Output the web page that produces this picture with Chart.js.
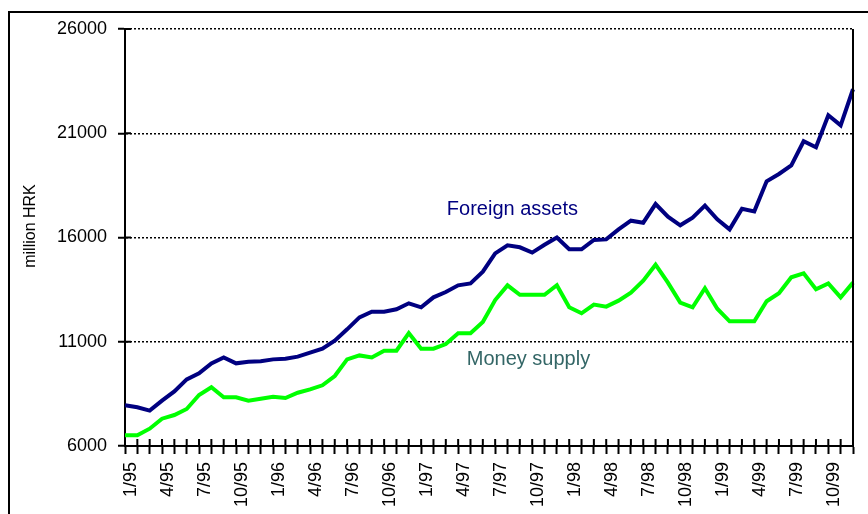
<!DOCTYPE html>
<html>
<head>
<meta charset="utf-8">
<script src="https://cdn.jsdelivr.net/npm/chart.js@4.4.1/dist/chart.umd.min.js"></script>
<style>
  html, body { margin: 0; padding: 0; background: #fff; overflow: hidden; }
  #frame { position: absolute; left: 8px; top: 11px; width: 900px; height: 600px; border: 2px solid #000; }
  #wrap { position: absolute; left: 0; top: 0; width: 868px; height: 514px; }
</style>
</head>
<body>
<div id="frame"></div>
<div id="wrap"><canvas id="chart"></canvas></div>
<script>
"use strict";

const years = ["95", "96", "97", "98", "99"];
const months = [];
for (const y of years) {
  for (let m = 1; m <= 12; m++) {
    months.push(m + "/" + y);
  }
}

const foreignAssets = [
  7950, 7855, 7695, 8175, 8620, 9195, 9485, 9965, 10250, 9965, 10045, 10060,
  10155, 10190, 10285, 10475, 10665, 11050, 11595, 12170, 12440, 12440, 12555, 12845,
  12650, 13130, 13385, 13705, 13800, 14360, 15240, 15625, 15530, 15275, 15655, 16000,
  15435, 15435, 15880, 15910, 16390, 16805, 16710, 17605, 16995, 16585, 16955, 17530,
  16870, 16390, 17380, 17255, 18695, 19045, 19460, 20615, 20325, 21860, 21380, 23110
];

const moneySupply = [
  6510, 6510, 6830, 7310, 7485, 7775, 8445, 8815, 8335, 8335, 8175, 8270,
  8365, 8300, 8555, 8715, 8910, 9355, 10155, 10345, 10250, 10570, 10570, 11420,
  10665, 10665, 10890, 11405, 11405, 11945, 13000, 13705, 13255, 13255, 13255, 13710,
  12650, 12365, 12780, 12685, 12970, 13355, 13930, 14695, 13835, 12875, 12650, 13570,
  12585, 11980, 11980, 11980, 12940, 13325, 14090, 14280, 13515, 13800, 13130, 13835
];

const yTicks = [6000, 11000, 16000, 21000, 26000];

const fontFamily = "'Liberation Sans', Arial, sans-serif";

// extra bits: inner tick marks, right border, labels on the lines, axis title
const extras = {
  id: "extras",
  afterDraw(chart) {
    const ctx = chart.ctx;
    const area = chart.chartArea;
    const x = chart.scales.x;
    const y = chart.scales.y;

    ctx.save();
    ctx.strokeStyle = "#000";
    ctx.lineWidth = 2;
    ctx.beginPath();
    for (let i = 0; i < x.ticks.length; i++) {
      const px = x.getPixelForTick(i);
      ctx.moveTo(px, area.bottom - 7);
      ctx.lineTo(px, area.bottom);
    }
    for (let i = 0; i < y.ticks.length; i++) {
      const py = y.getPixelForTick(i);
      ctx.moveTo(area.left, py);
      ctx.lineTo(area.left + 6, py);
    }
    ctx.moveTo(area.right, area.top);
    ctx.lineTo(area.right, area.bottom);
    ctx.stroke();

    ctx.font = "20px " + fontFamily;
    ctx.textAlign = "center";
    ctx.textBaseline = "middle";
    ctx.fillStyle = "#000080";
    ctx.fillText("Foreign assets", x.getPixelForValue(31.4), y.getPixelForValue(17330));
    ctx.fillStyle = "#336666";
    ctx.fillText("Money supply", x.getPixelForValue(32.7), y.getPixelForValue(10170));

    ctx.translate(31, 226);
    ctx.rotate(-Math.PI / 2);
    ctx.fillStyle = "#000";
    ctx.font = "16px " + fontFamily;
    ctx.fillText("million HRK", 0, 0);
    ctx.restore();
  }
};

new Chart(document.getElementById("chart"), {
  type: "line",
  data: {
    labels: months,
    datasets: [
      {
        label: "Foreign assets",
        data: foreignAssets,
        borderColor: "#000080",
        borderWidth: 4,
        pointRadius: 0,
        tension: 0,
        fill: false
      },
      {
        label: "Money supply",
        data: moneySupply,
        borderColor: "#00ff00",
        borderWidth: 4,
        pointRadius: 0,
        tension: 0,
        fill: false
      }
    ]
  },
  plugins: [extras],
  options: {
    responsive: true,
    maintainAspectRatio: false,
    animation: false,
    layout: { padding: { top: 29, right: 15, left: 0, bottom: 0 } },
    plugins: {
      legend: { display: false },
      tooltip: { enabled: false }
    },
    scales: {
      x: {
        offset: false,
        afterFit(scale) {
          scale.height = 68;
          scale.paddingLeft = 0;
          scale.paddingRight = 0;
        },
        grid: {
          drawOnChartArea: false,
          drawTicks: true,
          tickLength: 8,
          tickColor: "#000",
          tickWidth: 2
        },
        border: { color: "#000", width: 2 },
        ticks: {
          autoSkip: false,
          minRotation: 90,
          maxRotation: 90,
          padding: 8,
          labelOffset: 6,
          color: "#000",
          font: { family: fontFamily, size: 18 },
          callback(value, index) {
            return index % 3 === 0 ? months[index] : "";
          }
        }
      },
      y: {
        min: 6000,
        max: 26000,
        afterFit(scale) {
          scale.width = 125;
          scale.paddingTop = 0;
          scale.paddingBottom = 0;
        },
        afterBuildTicks(scale) {
          scale.ticks = yTicks.map(v => ({ value: v }));
        },
        grid: {
          color: "#000",
          lineWidth: 1.5,
          drawTicks: true,
          tickLength: 7,
          tickColor: "#000",
          tickWidth: 2,
          tickBorderDash: []
        },
        border: { color: "#000", width: 2, dash: [2, 2] },
        ticks: {
          padding: 11,
          color: "#000",
          font: { family: fontFamily, size: 18 },
          callback(value) {
            return String(value);
          }
        }
      }
    }
  }
});
</script>
</body>
</html>
